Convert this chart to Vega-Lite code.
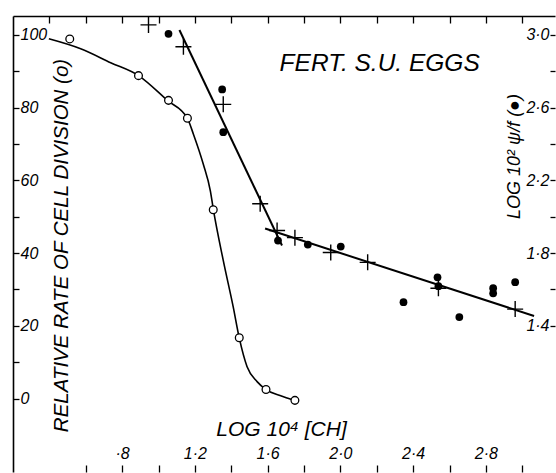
{
  "$schema": "https://vega.github.io/schema/vega-lite/v6.json",
  "width": 556,
  "height": 473,
  "autosize": {"type": "fit", "contains": "padding"},
  "padding": {"left": 12, "top": 14, "right": 0, "bottom": 0},
  "background": "white",
  "config": {
    "view": {"stroke": null},
    "axis": {
      "grid": false,
      "labelFont": "Liberation Sans",
      "labelFontStyle": "italic",
      "labelFontSize": 16,
      "labelColor": "black",
      "tickColor": "black",
      "tickWidth": 1.3,
      "domainColor": "black",
      "domainWidth": 1.6,
      "titleFont": "Liberation Sans",
      "titleFontStyle": "italic",
      "titleFontWeight": "normal",
      "titleFontSize": 20,
      "titleColor": "black",
      "labelOverlap": false,
      "labelFlush": false,
      "labelBound": false
    }
  },
  "datasets": {
    "curve": [
      {"logCH": 0.397, "rate": 98.92},
      {"logCH": 0.572, "rate": 96.18},
      {"logCH": 0.737, "rate": 92.36},
      {"logCH": 0.890, "rate": 88.81},
      {"logCH": 1.049, "rate": 81.98},
      {"logCH": 1.159, "rate": 77.06},
      {"logCH": 1.192, "rate": 72.69},
      {"logCH": 1.246, "rate": 64.49},
      {"logCH": 1.285, "rate": 57.11},
      {"logCH": 1.301, "rate": 52.19},
      {"logCH": 1.356, "rate": 37.99},
      {"logCH": 1.411, "rate": 25.14},
      {"logCH": 1.444, "rate": 16.67},
      {"logCH": 1.487, "rate": 8.75},
      {"logCH": 1.542, "rate": 4.65},
      {"logCH": 1.591, "rate": 2.47},
      {"logCH": 1.668, "rate": 0.83},
      {"logCH": 1.750, "rate": -0.54}
    ],
    "rate": [
      {"logCH": 0.512, "rate": 98.9},
      {"logCH": 0.890, "rate": 88.8},
      {"logCH": 1.055, "rate": 82.0},
      {"logCH": 1.159, "rate": 77.1},
      {"logCH": 1.301, "rate": 51.9},
      {"logCH": 1.444, "rate": 16.7},
      {"logCH": 1.591, "rate": 2.5},
      {"logCH": 1.750, "rate": -0.5}
    ],
    "lines": [
      {"seg": "a", "logCH": 1.115, "logPsi": 3.027},
      {"seg": "a", "logCH": 1.679, "logPsi": 1.842},
      {"seg": "b", "logCH": 1.586, "logPsi": 1.935},
      {"seg": "b", "logCH": 3.065, "logPsi": 1.454}
    ],
    "dots": [
      {"logCH": 1.055, "logPsi": 3.006},
      {"logCH": 1.350, "logPsi": 2.700},
      {"logCH": 1.356, "logPsi": 2.465},
      {"logCH": 1.657, "logPsi": 1.869},
      {"logCH": 1.821, "logPsi": 1.847},
      {"logCH": 2.002, "logPsi": 1.836},
      {"logCH": 2.347, "logPsi": 1.530},
      {"logCH": 2.534, "logPsi": 1.667},
      {"logCH": 2.539, "logPsi": 1.618},
      {"logCH": 2.654, "logPsi": 1.448},
      {"logCH": 2.840, "logPsi": 1.607},
      {"logCH": 2.840, "logPsi": 1.579},
      {"logCH": 2.961, "logPsi": 1.640}
    ],
    "crosses": [
      {"logCH": 0.945, "logPsi": 3.055},
      {"logCH": 1.137, "logPsi": 2.935},
      {"logCH": 1.356, "logPsi": 2.618},
      {"logCH": 1.559, "logPsi": 2.071},
      {"logCH": 1.652, "logPsi": 1.924},
      {"logCH": 1.750, "logPsi": 1.885},
      {"logCH": 1.947, "logPsi": 1.803},
      {"logCH": 2.150, "logPsi": 1.749},
      {"logCH": 2.539, "logPsi": 1.607},
      {"logCH": 2.961, "logPsi": 1.492}
    ],
    "label": [
      {"logCH": 2.216, "logPsi": 2.842, "text": "FERT. S.U. EGGS"}
    ]
  },
  "resolve": {"scale": {"y": "independent"}, "axis": {"x": "independent"}},
  "layer": [
    {
      "layer": [
        {
          "data": {"name": "curve"},
          "mark": {"type": "line", "interpolate": "monotone", "color": "black", "strokeWidth": 1.6},
          "encoding": {
            "x": {
              "field": "logCH", "type": "quantitative",
              "scale": {"domain": [0.2, 3.18], "nice": false, "zero": false},
              "axis": {
                "orient": "bottom",
                "values": [0.6, 0.8, 1.0, 1.2, 1.4, 1.6, 1.8, 2.0, 2.2, 2.4, 2.6, 2.8, 3.0],
                "tickSize": -7,
                "labelPadding": -12,
                "labelBaseline": "middle",
                "labelExpr": "round(datum.value*10) % 4 != 0 ? '' : datum.value < 1 ? '·8' : replace(format(datum.value, '.1f'), '.', '·')",
                "domain": false,
                "title": "LOG 10⁴ [CH]",
                "titleFontSize": 21,
                "titleX": 268,
                "titleY": -43,
                "titleAlign": "center",
                "titleBaseline": "middle"
              }
            },
            "y": {
              "field": "rate", "type": "quantitative",
              "scale": {"domain": [-20.2, 105.2], "nice": false, "zero": false},
              "axis": {
                "orient": "left",
                "values": [0, 10, 20, 30, 40, 50, 60, 70, 80, 90, 100],
                "tickSize": -6,
                "labelPadding": -1,
                "labelAlign": "left",
                "labelBaseline": "middle",
                "labelExpr": "datum.value % 20 == 0 ? datum.label : ''",
                "title": "RELATIVE RATE OF CELL DIVISION (o)",
                "titleFontSize": 20.5,
                "titleX": 48,
                "titleY": 229,
                "titleAngle": 270,
                "titleAlign": "center",
                "titleBaseline": "middle"
              }
            }
          }
        },
        {
          "data": {"name": "rate"},
          "mark": {"type": "point", "shape": "circle", "filled": true, "fill": "white", "stroke": "black", "strokeWidth": 1.3, "size": 60, "opacity": 1},
          "encoding": {
            "x": {"field": "logCH", "type": "quantitative", "scale": {"domain": [0.2, 3.18], "nice": false, "zero": false}},
            "y": {"field": "rate", "type": "quantitative", "scale": {"domain": [-20.2, 105.2], "nice": false, "zero": false}}
          }
        }
      ]
    },
    {
      "layer": [
        {
          "data": {"name": "lines"},
          "mark": {"type": "line", "color": "black", "strokeWidth": 2},
          "encoding": {
            "x": {
              "field": "logCH", "type": "quantitative",
              "scale": {"domain": [0.2, 3.18], "nice": false, "zero": false},
              "axis": {
                "orient": "top",
                "values": [0.4, 0.6, 0.8, 1.0, 1.2, 1.4, 1.6, 1.8, 2.0, 2.2, 2.4, 2.6, 2.8, 3.0],
                "tickSize": -7,
                "labels": false,
                "title": null,
                "domain": true
              }
            },
            "y": {
              "field": "logPsi", "type": "quantitative",
              "scale": {"domain": [0.596, 3.104], "nice": false, "zero": false},
              "axis": {
                "orient": "right",
                "values": [1.4, 1.6, 1.8, 2.0, 2.2, 2.4, 2.6, 2.8, 3.0],
                "tickSize": -5,
                "labelPadding": -1,
                "labelAlign": "right",
                "labelBaseline": "middle",
                "labelExpr": "round(datum.value*10) % 4 == 2 ? replace(format(datum.value, '.1f'), '.', '·') : ''",
                "domain": false,
                "title": "LOG 10² ψ/f (●)",
                "titleFontSize": 18,
                "titleX": -41,
                "titleY": 140,
                "titleAngle": 270,
                "titleAlign": "center",
                "titleBaseline": "middle"
              }
            },
            "detail": {"field": "seg", "type": "nominal"}
          }
        },
        {
          "data": {"name": "crosses"},
          "mark": {"type": "point", "shape": "M-1,0H1M0,-1V1", "filled": false, "stroke": "black", "strokeWidth": 1.4, "size": 256, "opacity": 1},
          "encoding": {
            "x": {"field": "logCH", "type": "quantitative", "scale": {"domain": [0.2, 3.18], "nice": false, "zero": false}},
            "y": {"field": "logPsi", "type": "quantitative", "scale": {"domain": [0.596, 3.104], "nice": false, "zero": false}}
          }
        },
        {
          "data": {"name": "dots"},
          "mark": {"type": "point", "shape": "circle", "filled": true, "fill": "black", "size": 60, "opacity": 1},
          "encoding": {
            "x": {"field": "logCH", "type": "quantitative", "scale": {"domain": [0.2, 3.18], "nice": false, "zero": false}},
            "y": {"field": "logPsi", "type": "quantitative", "scale": {"domain": [0.596, 3.104], "nice": false, "zero": false}}
          }
        },
        {
          "data": {"name": "label"},
          "mark": {"type": "text", "font": "Liberation Sans", "fontStyle": "italic", "fontSize": 24.5, "color": "black", "align": "center", "baseline": "middle"},
          "encoding": {
            "x": {"field": "logCH", "type": "quantitative", "scale": {"domain": [0.2, 3.18], "nice": false, "zero": false}},
            "y": {"field": "logPsi", "type": "quantitative", "scale": {"domain": [0.596, 3.104], "nice": false, "zero": false}},
            "text": {"field": "text", "type": "nominal"}
          }
        }
      ]
    }
  ]
}
